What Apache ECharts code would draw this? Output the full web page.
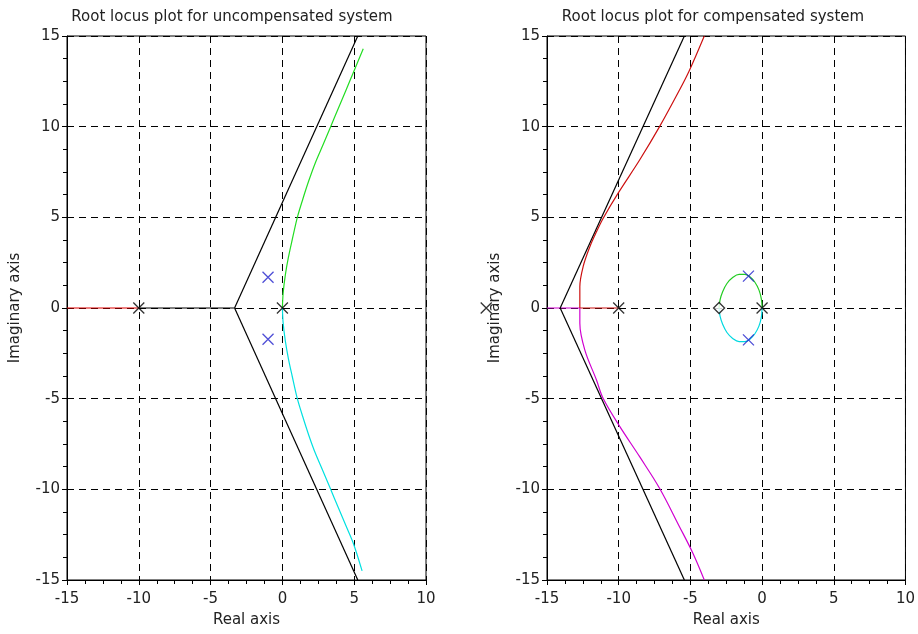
<!DOCTYPE html>
<html>
<head>
<meta charset="utf-8">
<script src="https://cdn.jsdelivr.net/npm/echarts@6/dist/echarts.min.js"></script>
<style>html,body{margin:0;padding:0;background:#fff}#c{width:918px;height:634px}</style>
</head>
<body>
<div id="c"></div>
<script>
// ---- Titles / axis names ----
const titles = ['Root locus plot for uncompensated system', 'Root locus plot for compensated system'];
const xName = 'Real axis';
const yName = 'Imaginary axis';
const xRange = [-15, 10];
const yRange = [-15, 15];

// ---- Left plot (uncompensated) ----
const leftRealRed = [[-15, 0], [-10, 0]];
const leftRealBlack = [[-10, 0], [-3.33, 0]];
const leftAsymUp = [[-3.33, 0], [5.25, 15]];
const leftAsymDown = [[-3.33, 0], [5.25, -15]];
const leftGreen = [[0, 0], [0.05, 0.8], [0.2, 1.8], [0.42, 2.8], [0.68, 3.75], [1.04, 5], [1.42, 6], [1.83, 7], [2.29, 8], [2.83, 9], [3.36, 10], [3.89, 11], [4.42, 12], [4.95, 13], [5.63, 14.3]];
const leftCyan = [[0, 0], [0.05, -0.8], [0.2, -1.8], [0.42, -2.8], [0.68, -3.75], [1.04, -5], [1.42, -6], [1.83, -7], [2.29, -8], [2.83, -9], [3.36, -10], [3.89, -11], [4.42, -12], [4.95, -13], [5.55, -14.5]];
const leftPolesBlack = [[-10, 0], [0, 0]];
const leftPolesBlue = [[-1, 1.7], [-1, -1.72]];

// ---- Right plot (compensated) ----
const rightRealMagenta = [[-15, 0], [-12.7, 0]];
const rightRealRed = [[-12.7, 0], [-10, 0]];
const rightAsymUp = [[-14.08, 0], [-5.42, 15]];
const rightAsymDown = [[-14.08, 0], [-5.42, -15]];
const rightRed = [[-12.71, 0], [-12.71, 1.17], [-12.48, 2.28], [-12.01, 3.38], [-11.55, 4.2], [-11.09, 4.94], [-10.05, 6.32], [-8.54, 8.16], [-7.15, 10.0], [-5.76, 12.02], [-5.07, 13.1], [-4.03, 15]];
const rightMagenta = [[-12.71, 0], [-12.71, -0.84], [-12.36, -2.32], [-11.55, -3.97], [-11.09, -4.98], [-9.93, -6.53], [-8.54, -8.2], [-7.15, -9.94], [-5.76, -12.06], [-4.84, -13.5], [-4.03, -15]];
const rightGreen = [[-3, 0], [-2.93, 0.45], [-2.75, 0.9], [-2.45, 1.35], [-2.05, 1.68], [-1.6, 1.85], [-1.2, 1.85], [-0.85, 1.72], [-0.5, 1.42], [-0.22, 1.0], [-0.05, 0.5], [0, 0]];
const rightCyan = [[-3, 0], [-2.93, -0.45], [-2.75, -0.9], [-2.45, -1.35], [-2.05, -1.68], [-1.6, -1.85], [-1.2, -1.85], [-0.85, -1.72], [-0.5, -1.42], [-0.22, -1.0], [-0.05, -0.5], [0, 0]];
const rightPolesBlack = [[-10, 0], [0, 0]];
const rightStrayPole = [[-19.24, 0]];
const rightPolesBlue = [[-0.95, 1.76], [-0.95, -1.76]];
const rightZeros = [[-3, 0]];

const FONT = 'DejaVu Sans';
const TXT = '#222';
const FS = 15;
const xSymbol = 'path://M0,0L10,10M10,0L0,10';

function mkX(idx) {
  return {
    type: 'value', gridIndex: idx, min: xRange[0], max: xRange[1], interval: 5,
    name: xName, nameLocation: 'middle', nameGap: 33,
    nameTextStyle: { fontFamily: FONT, fontSize: FS, color: TXT },
    axisLine: { onZero: false, lineStyle: { color: '#000', width: 1 } },
    axisTick: { show: true, inside: false, length: 5, lineStyle: { color: '#000' } },
    minorTick: { show: true, splitNumber: 4, length: 4, lineStyle: { color: '#000' } },
    axisLabel: { fontFamily: FONT, fontSize: FS, color: TXT, margin: 12 },
    splitLine: { show: true, lineStyle: { color: '#000', type: [7, 5], width: 1 } }
  };
}
function mkY(idx) {
  return {
    type: 'value', gridIndex: idx, min: yRange[0], max: yRange[1], interval: 5,
    name: yName, nameLocation: 'middle', nameGap: 44,
    nameTextStyle: { fontFamily: FONT, fontSize: FS, color: TXT },
    axisLine: { onZero: false, lineStyle: { color: '#000', width: 1 } },
    axisTick: { show: true, inside: false, length: 5, lineStyle: { color: '#000' } },
    minorTick: { show: true, splitNumber: 4, length: 4, lineStyle: { color: '#000' } },
    axisLabel: { fontFamily: FONT, fontSize: FS, color: TXT, margin: 7 },
    splitLine: { show: true, lineStyle: { color: '#000', type: [7, 5], width: 1 } }
  };
}
function line(idx, data, color, smooth) {
  return { type: 'line', xAxisIndex: idx, yAxisIndex: idx, data: data, showSymbol: false, symbol: 'none',
    smooth: smooth || false, lineStyle: { color: color, width: 1.2 }, z: 3, silent: true, animation: false };
}
function marks(idx, data, color, symbol, size, fill) {
  return { type: 'scatter', xAxisIndex: idx, yAxisIndex: idx, data: data, symbol: symbol, symbolSize: size,
    clip: false, z: 5, silent: true, animation: false,
    itemStyle: { color: fill || 'none', borderColor: color, borderWidth: 1.3 } };
}

const chart = echarts.init(document.getElementById('c'), null, { renderer: 'canvas' });
chart.setOption({
  animation: false,
  backgroundColor: '#fff',
  grid: [
    { left: 67, top: 36, width: 359, height: 544, show: true, borderColor: '#000', borderWidth: 1, backgroundColor: 'transparent' },
    { left: 547, top: 36, width: 360, height: 544, show: true, borderColor: '#000', borderWidth: 1, backgroundColor: 'transparent' }
  ],
  xAxis: [mkX(0), mkX(1)],
  yAxis: [mkY(0), mkY(1)],
  graphic: [
    { type: 'text', x: 232, y: 17, style: { text: titles[0], font: FS + 'px "DejaVu Sans"', fill: TXT, textAlign: 'center', textVerticalAlign: 'middle' } },
    { type: 'text', x: 713, y: 17, style: { text: titles[1], font: FS + 'px "DejaVu Sans"', fill: TXT, textAlign: 'center', textVerticalAlign: 'middle' } }
  ],
  series: [
    line(0, leftRealRed, '#e00000'),
    line(0, leftRealBlack, '#000'),
    line(0, leftAsymUp, '#000'),
    line(0, leftAsymDown, '#000'),
    line(0, leftGreen, '#22dd22', 0.3),
    line(0, leftCyan, '#00e0e0', 0.3),
    marks(0, leftPolesBlack, '#000', xSymbol, 11),
    marks(0, leftPolesBlue, '#2222cc', xSymbol, 11),

    line(1, rightRealMagenta, '#d000d0'),
    line(1, rightRealRed, '#cc1010'),
    line(1, rightAsymUp, '#000'),
    line(1, rightAsymDown, '#000'),
    line(1, rightRed, '#cc1010', 0.35),
    line(1, rightMagenta, '#d000d0', 0.35),
    line(1, rightGreen, '#22cc22', 0.4),
    line(1, rightCyan, '#00d8e0', 0.4),
    marks(1, rightPolesBlack, '#000', xSymbol, 11),
    marks(1, rightStrayPole, '#000', xSymbol, 11),
    marks(1, rightPolesBlue, '#2222cc', xSymbol, 11),
    marks(1, rightZeros, '#000', 'diamond', 11, '#fff')
  ]
});
</script>
</body>
</html>
